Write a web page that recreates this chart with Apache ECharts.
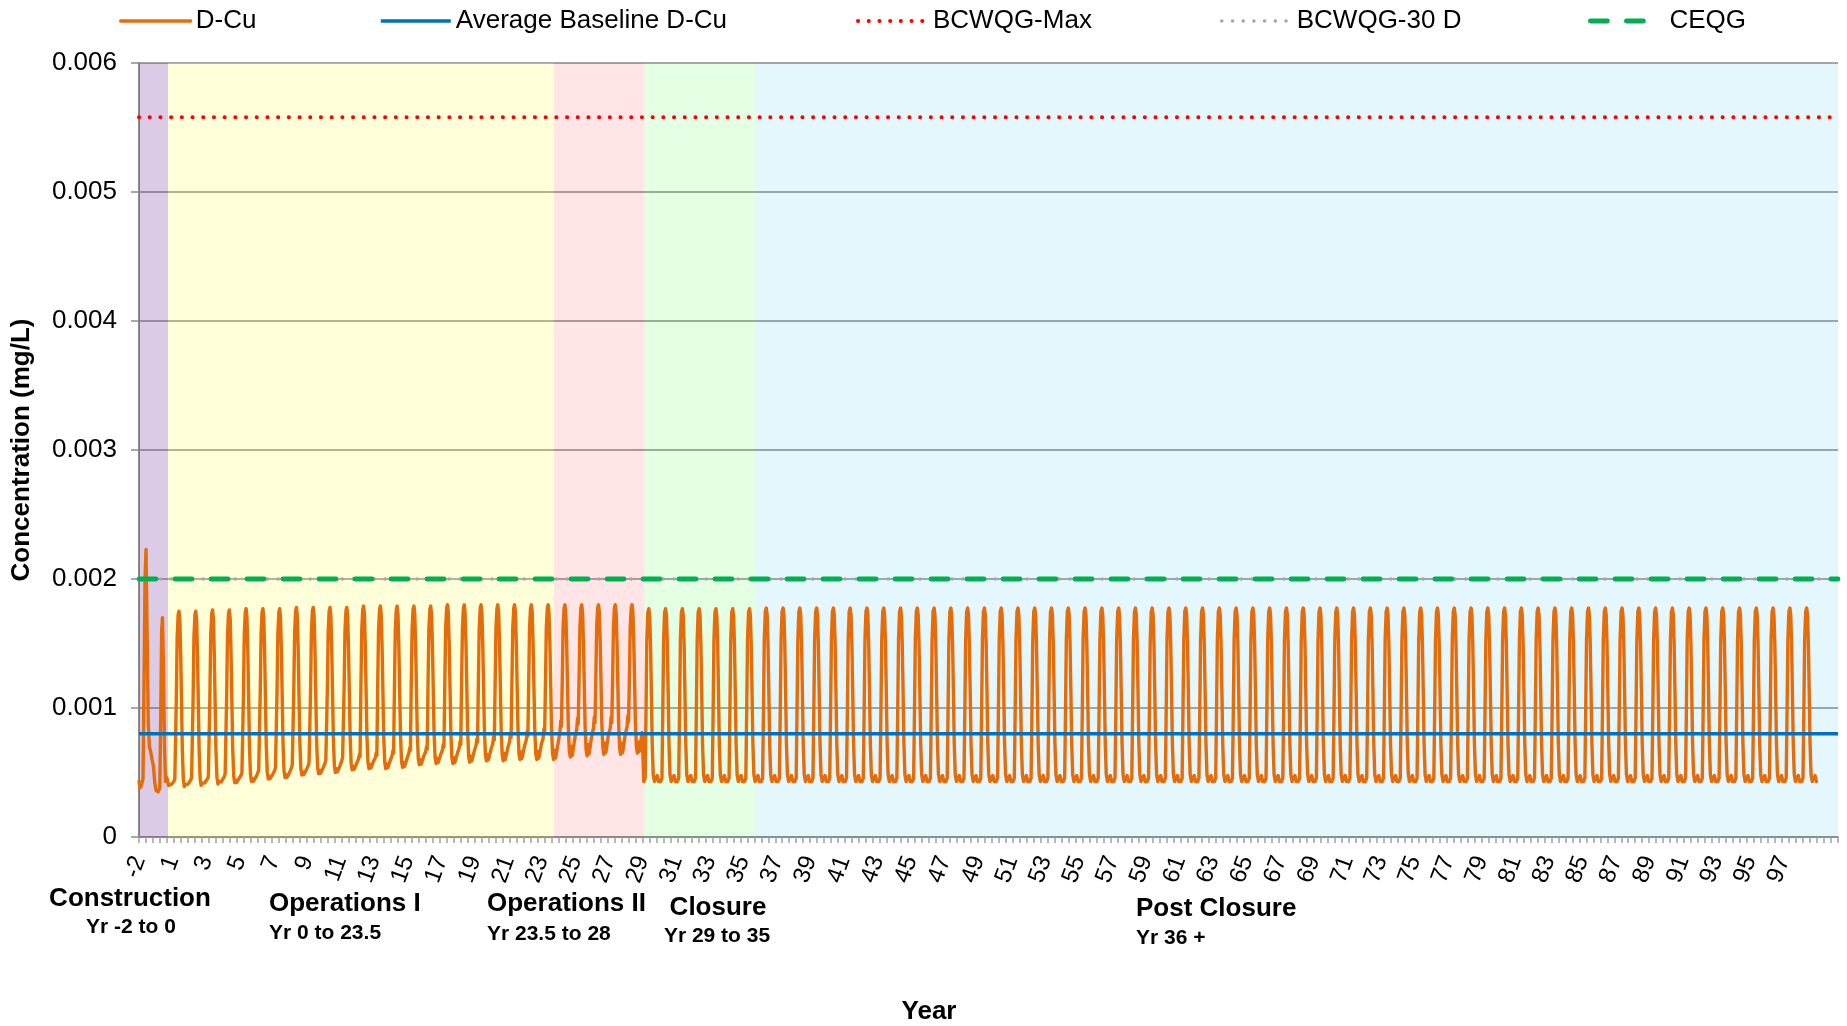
<!DOCTYPE html>
<html>
<head>
<meta charset="utf-8">
<script src="https://cdn.jsdelivr.net/npm/echarts/dist/echarts.min.js"></script>
<style>
html,body{margin:0;padding:0;background:#fff;}
#chart{width:1847px;height:1026px;}
</style>
</head>
<body>
<div id="chart"></div>
<script>
// ---------------- DATA ----------------
// x position unit = one year step on the chart axis (0 = left edge of plot)
const tickLabels = ['-2','1','3','5','7','9','11','13','15','17','19','21','23','25','27','29','31','33','35','37','39','41','43','45','47','49','51','53','55','57','59','61','63','65','67','69','71','73','75','77','79','81','83','85','87','89','91','93','95','97'];
const X_MAX = 101.25;

// Construction period (read point by point)
const constructionT = [0.00,0.06,0.14,0.24,0.30,0.36,0.42,0.48,0.55,0.62,0.70,0.78,0.86,0.94,1.02,1.14,1.24,1.30,1.35,1.40,1.46,1.52,1.58,1.66,1.76,1.86,1.96];
const constructionV = [0.00043,0.00038,0.00040,0.00045,0.00120,0.00200,0.00223,0.00160,0.00090,0.00070,0.00066,0.00060,0.00055,0.00042,0.00036,0.00035,0.00038,0.00100,0.00160,0.00170,0.00130,0.00070,0.00043,0.00046,0.00040,0.00039,0.00041];

// Yearly cycles: Operations I (23 years) + Operations II (5 years)
const firstSpikeT = 2.384;
const opsPeak     = [0.00175,0.00175,0.00176,0.00176,0.00177,0.00177,0.00177,0.00178,0.00178,0.00178,0.00178,0.00179,0.00179,0.00179,0.00179,0.00179,0.00180,0.00180,0.00180,0.00180,0.00180,0.00180,0.00180, 0.00180,0.00180,0.00180,0.00180,0.00180];
const opsTrough   = [0.00039,0.00040,0.00041,0.00042,0.00043,0.00045,0.00046,0.00048,0.00049,0.00050,0.00052,0.00053,0.00053,0.00054,0.00056,0.00057,0.00057,0.00058,0.00059,0.00059,0.00060,0.00060,0.00060, 0.00062,0.00063,0.00064,0.00064,0.00065];
const opsShoulder = [0.00045,0.00046,0.00047,0.00049,0.00050,0.00052,0.00054,0.00056,0.00058,0.00060,0.00062,0.00064,0.00065,0.00067,0.00069,0.00070,0.00072,0.00074,0.00076,0.00078,0.00080,0.00082,0.00084, 0.00090,0.00092,0.00093,0.00093,0.00094];
// Closure (7 years) and Post Closure (63 years)
const closurePeaks = [0.00177,0.00177,0.00177,0.00177,0.00177,0.00177,0.00177];
const postPeak = 0.001775;
const postYears = 63;
const postBase = 0.00043;

// shape of one yearly cycle: [offset from spike, share of shoulder rise, share of peak rise]
const opsShape = [[-0.30,0.70,0],[-0.25,1.00,0],[-0.21,0.85,0],[-0.16,0,0.50],[-0.11,0,0.85],[-0.05,0,0.98],[0,0,1],[0.05,0,0.95],[0.10,0,0.76],[0.15,0,0.48],[0.20,0,0.20],[0.26,0,0.04],[0.32,0,0],[0.38,0.30,0],[0.44,0.05,0],[0.52,0.30,0],[0.60,0.55,0]];
const postShape = [[-0.30,0],[-0.22,0.02],[-0.17,0.40],[-0.12,0.82],[-0.06,0.98],[0,1],[0.05,0.96],[0.10,0.80],[0.15,0.52],[0.20,0.22],[0.26,0.04],[0.33,0],[0.42,0.02],[0.50,0.035],[0.58,0]];

const baselineDCu = 0.0008;
const bcwqgMax = 0.00558;
const bcwqg30 = 0.002;
const ceqg = 0.002;

const phaseTitles = ['Construction','Operations I','Operations II','Closure','Post Closure'];
const phaseYears  = ['Yr -2 to 0','Yr 0 to 23.5','Yr 23.5 to 28','Yr 29 to 35','Yr 36 +'];
const phaseStart  = [0, 1.73, 24.73, 30.12, 36.71];
const phaseEnd    = [1.73, 24.73, 30.12, 36.71, X_MAX];

// ---------------- BUILD ----------------
const dcu = [];
for (let i = 0; i < constructionT.length; i++) dcu.push([constructionT[i], constructionV[i]]);
for (let k = 0; k < opsPeak.length; k++) {
  const tk = firstSpikeT + k, T = opsTrough[k], S = opsShoulder[k], P = opsPeak[k];
  for (const [dt, fS, fP] of opsShape) dcu.push([+(tk + dt).toFixed(4), T + fS * (S - T) + fP * (P - T)]);
}
const postPeaks = closurePeaks.concat(new Array(postYears).fill(postPeak));
for (let j = 0; j < postPeaks.length; j++) {
  const tk = firstSpikeT + opsPeak.length + j, P = postPeaks[j];
  for (const [dt, f] of postShape) dcu.push([+(tk + dt).toFixed(4), postBase + f * (P - postBase)]);
}
const hline = v => [[0, v], [X_MAX, v]];

const F = 'Liberation Sans, Arial, Helvetica, sans-serif';
const phaseColors = ['rgba(112,48,160,0.25)','rgba(255,255,0,0.15)','rgba(255,0,0,0.10)','rgba(0,255,0,0.10)','rgba(0,176,240,0.105)'];
const titleLayout = [{x:130,y:899,a:'center'},{x:269,y:904,a:'left'},{x:487,y:904,a:'left'},{x:718,y:908,a:'center'},{x:1136,y:909,a:'left'}];
const yearLayout  = [{x:131,y:927,a:'center'},{x:269,y:933,a:'left'},{x:487,y:934,a:'left'},{x:717,y:936,a:'center'},{x:1136,y:938,a:'left'}];

const graphics = [];
phaseTitles.forEach((t, i) => {
  graphics.push({type:'text', x:titleLayout[i].x, y:titleLayout[i].y, silent:true,
    style:{text:t, fill:'#000', font:'bold 26px ' + F, textAlign:titleLayout[i].a, textVerticalAlign:'middle'}});
  graphics.push({type:'text', x:yearLayout[i].x, y:yearLayout[i].y, silent:true,
    style:{text:phaseYears[i], fill:'#000', font:'bold 21px ' + F, textAlign:yearLayout[i].a, textVerticalAlign:'middle'}});
});
graphics.push({type:'text', x:929, y:1012, silent:true,
  style:{text:'Year', fill:'#000', font:'bold 26px ' + F, textAlign:'center', textVerticalAlign:'middle'}});

const styles = {
  dcu:  {color:'#e46c0a', width:3.4, type:'solid', cap:'round', join:'round'},
  base: {color:'#0070c0', width:3.6, type:'solid'},
  max:  {color:'#ff0000', width:4, type:[0.1,10.6], cap:'round'},
  d30:  {color:'#a6a6a6', width:3.5, type:[0.1,10.6], cap:'round'},
  ceqg: {color:'#00b050', width:4.8, type:[17,19], cap:'round'}
};

function legendAt(name, left, st, extra) {
  return Object.assign({
    data:[name], left:left, top:8, padding:0, itemWidth:70, itemHeight:26,
    selectedMode:false,
    itemStyle:{opacity:0, borderWidth:0},
    lineStyle:{width:st.width, type:st.type, cap:st.cap || 'butt', color:st.color, opacity:1},
    textStyle:{fontSize:26, color:'#000', fontFamily:F}
  }, extra || {});
}

const option = {
  animation:false,
  backgroundColor:'#ffffff',
  textStyle:{fontFamily:F},
  grid:{left:139, right:9, top:63, bottom:189, containLabel:false},
  legend:[
    legendAt('D-Cu', 119, styles.dcu),
    legendAt('Average Baseline D-Cu', 379, styles.base),
    legendAt('BCWQG-Max', 856, styles.max),
    legendAt('BCWQG-30 D', 1220, styles.d30),
    legendAt('CEQG', 1588, styles.ceqg, {itemWidth:56, textStyle:{fontSize:26,color:'#000',fontFamily:F,padding:[0,0,0,18]}})
  ],
  xAxis:[{
    type:'value', min:0, max:X_MAX, interval:2,
    axisLine:{show:true, lineStyle:{color:'#8c8c8c', width:2}},
    axisTick:{show:false},
    splitLine:{show:false},
    axisLabel:{show:true, rotate:70, margin:20, fontSize:24, color:'#000', fontFamily:F, hideOverlap:false,
      showMinLabel:true, showMaxLabel:false,
      formatter:function(v){ const i = Math.round(v/2); return (Math.abs(v-2*i)<1e-6 && i < tickLabels.length) ? tickLabels[i] : ''; }}
  },{
    type:'value', min:0, max:X_MAX, interval:5/12, position:'bottom',
    axisLine:{show:false},
    axisTick:{show:true, length:6, lineStyle:{color:'#a0a0a0', width:1.5}},
    axisLabel:{show:false}, splitLine:{show:false}
  }],
  yAxis:{
    type:'value', min:0, max:0.006, interval:0.001,
    name:'Concentration (mg/L)', nameLocation:'middle', nameGap:104, nameRotate:90,
    nameTextStyle:{fontSize:26, fontWeight:'bold', color:'#000', fontFamily:F},
    axisLine:{show:true, lineStyle:{color:'#8c8c8c', width:2}},
    axisTick:{show:true, length:8, lineStyle:{color:'#8c8c8c', width:1.5}},
    splitLine:{show:true, lineStyle:{color:'#8a8a8a', width:1.5}},
    axisLabel:{fontSize:26, color:'#000', margin:22, fontFamily:F,
      formatter:function(v){ return v === 0 ? '0' : v.toFixed(3); }}
  },
  series:[
    {name:'D-Cu', type:'line', data:dcu, symbol:'none', showSymbol:false, z:2, lineStyle:styles.dcu, itemStyle:{color:styles.dcu.color}, silent:true},
    {name:'Average Baseline D-Cu', type:'line', data:hline(baselineDCu), symbol:'none', z:2, lineStyle:styles.base, itemStyle:{color:styles.base.color}, silent:true},
    {name:'BCWQG-Max', type:'line', data:hline(bcwqgMax), symbol:'none', z:2, lineStyle:styles.max, itemStyle:{color:styles.max.color}, silent:true},
    {name:'BCWQG-30 D', type:'line', data:hline(bcwqg30), symbol:'none', z:2, lineStyle:styles.d30, itemStyle:{color:styles.d30.color}, silent:true},
    {name:'CEQG', type:'line', data:hline(ceqg), symbol:'none', z:2, lineStyle:styles.ceqg, itemStyle:{color:styles.ceqg.color}, silent:true},
    {name:'phases', type:'line', data:[], z:10, silent:true,
      markArea:{silent:true, label:{show:false},
        data: phaseTitles.map((t,i)=>[{xAxis:phaseStart[i], itemStyle:{color:phaseColors[i], borderWidth:0}}, {xAxis:phaseEnd[i]}])}}
  ],
  graphic: graphics
};

const chart = echarts.init(document.getElementById('chart'), null, {renderer:'canvas'});
chart.setOption(option);
</script>
</body>
</html>
